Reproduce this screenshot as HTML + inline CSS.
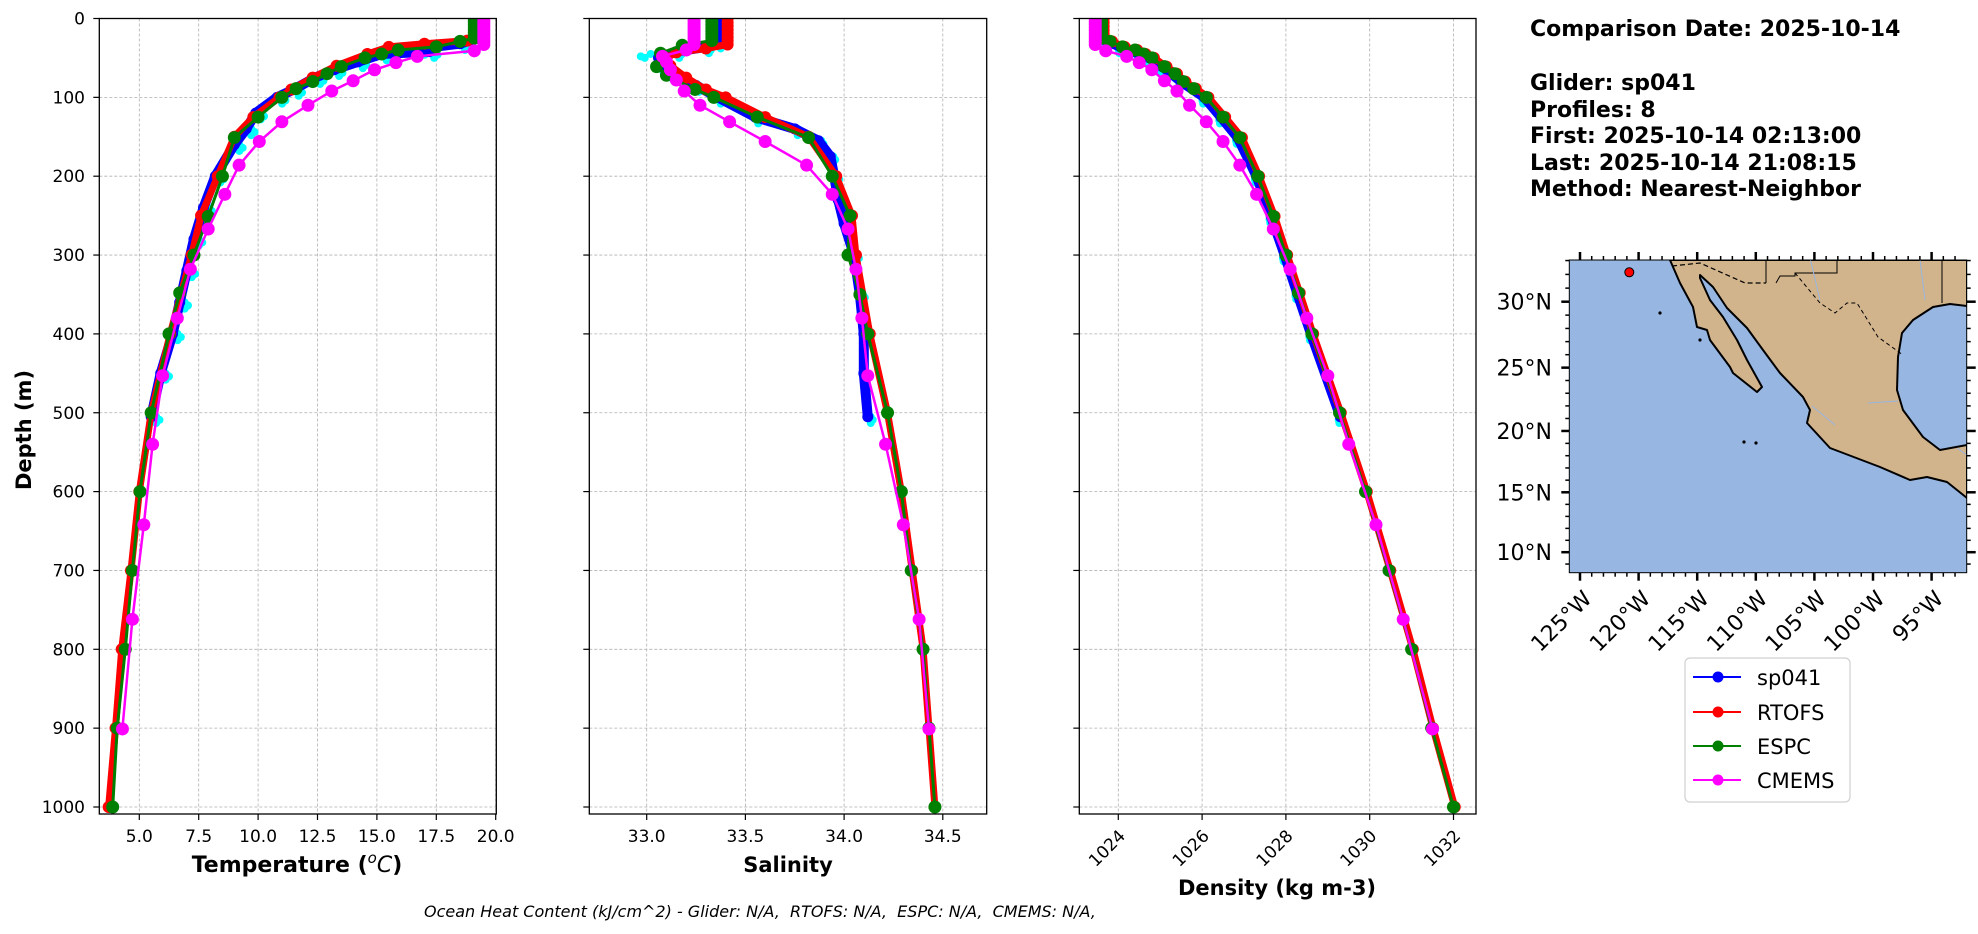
<!DOCTYPE html>
<html><head><meta charset="utf-8">
<style>
html,body{margin:0;padding:0;background:#fff;}
svg{display:block;font-family:"DejaVu Sans","Liberation Sans",sans-serif;}
</style></head>
<body>
<svg id="s" width="1978" height="934" viewBox="0 0 1978 934" xmlns="http://www.w3.org/2000/svg">
<rect width="1978" height="934" fill="#fff"/>
<g id="plots"></g>
<g font-weight="bold" font-size="22" fill="#000">
<text x="1530" y="36">Comparison Date: 2025-10-14</text>
<text x="1530" y="90">Glider: sp041</text>
<text x="1530" y="117">Profiles: 8</text>
<text x="1530" y="143">First: 2025-10-14 02:13:00</text>
<text x="1530" y="170">Last: 2025-10-14 21:08:15</text>
<text x="1530" y="196">Method: Nearest-Neighbor</text>
</g>
<g id="map"></g>
<g>
<rect x="1685" y="658" width="165" height="144" rx="5" fill="#fff" stroke="#d0d0d0" stroke-width="1.2"/>
<line x1="1693" y1="677" x2="1741" y2="677" stroke="#0000ff" stroke-width="2"/><circle cx="1718" cy="677" r="5.5" fill="#0000ff"/>
<line x1="1693" y1="712" x2="1741" y2="712" stroke="#ff0000" stroke-width="2"/><circle cx="1718" cy="712" r="5.5" fill="#ff0000"/>
<line x1="1693" y1="746" x2="1741" y2="746" stroke="#008000" stroke-width="2"/><circle cx="1718" cy="746" r="5.5" fill="#008000"/>
<line x1="1693" y1="780" x2="1741" y2="780" stroke="#ff00ff" stroke-width="2"/><circle cx="1718" cy="780" r="5.5" fill="#ff00ff"/>
<g font-size="21" fill="#000">
<text x="1757" y="685">sp041</text>
<text x="1757" y="720">RTOFS</text>
<text x="1757" y="754">ESPC</text>
<text x="1757" y="788">CMEMS</text>
</g>
</g>
<text x="424" y="917" font-size="16" font-style="italic" fill="#000" xml:space="preserve">Ocean Heat Content (kJ/cm^2) - Glider: N/A,  RTOFS: N/A,  ESPC: N/A,  CMEMS: N/A,</text>
<text transform="translate(31,430) rotate(-90)" text-anchor="middle" font-size="21" font-weight="bold">Depth (m)</text>
<text x="297" y="872" text-anchor="middle" font-size="22" font-weight="bold">Temperature (<tspan font-style="italic" font-weight="normal" baseline-shift="super" font-size="15">o</tspan><tspan font-style="italic" font-weight="normal">C</tspan>)</text>
<text x="788" y="872" text-anchor="middle" font-size="21" font-weight="bold">Salinity</text>
<text x="1277" y="895" text-anchor="middle" font-size="21" font-weight="bold">Density (kg m-3)</text>
</svg>
<script>
(function(){
var NS="http://www.w3.org/2000/svg";
var plots=document.getElementById("plots");
function el(tag,attrs,parent,txt){var e=document.createElementNS(NS,tag);for(var k in attrs)e.setAttribute(k,attrs[k]);if(txt!==undefined)e.textContent=txt;(parent||plots).appendChild(e);return e;}
var TOP=18.5,SC=0.7885,BOT=814;
function Y(d){return TOP+d*SC;}
var panels=[
 {L:99.3,R:496.3,x0:5,px0:139.3,k:23.76,ticks:[5,7.5,10,12.5,15,17.5,20],fmt:function(v){return v.toFixed(1);},ylab:true,rot:false},
 {L:589.3,R:986.7,x0:33,px0:646.7,k:197.4,ticks:[33,33.5,34,34.5],fmt:function(v){return v.toFixed(1);},ylab:false,rot:false},
 {L:1079.3,R:1476,x0:1024,px0:1118.3,k:41.9,ticks:[1024,1026,1028,1030,1032],fmt:function(v){return String(v);},ylab:false,rot:true}
];
function lev(a,b,v,n){var r=[];for(var i=0;i<n;i++){r.push([a+(b-a)*i/(n-1),v]);}return r;}
var T={
 blue:[[0,19.2],[25,19.2],[32,18.5],[38,16.8],[42,17.2],[45,15.2],[55,14.2],[65,13.2],[75,12.4],[90,11.5],[100,10.8],[120,9.9],[140,9.5],[160,9.0],[200,8.2],[240,7.7],[280,7.3],[320,7.0],[360,6.7],[400,6.4],[450,5.9],[505,5.5]],
 red:lev(0,20,19.3,6).concat([[28,18.8],[32,17],[36,15.5],[45,14.6],[60,13.3],[75,12.3],[90,11.4],[100,10.9],[125,9.8],[150,9.0],[200,8.3],[250,7.6],[300,7.2],[400,6.3],[500,5.5],[600,5.0],[700,4.65],[800,4.26],[900,4.0],[1000,3.71]]),
 green:lev(0,25,19.1,8).concat([[29,18.5],[36,17.5],[40,15.9],[45,15.2],[50,14.5],[61,13.5],[70,12.9],[80,12.3],[89,11.6],[100,11.0],[125,10.0],[151,9.0],[200,8.5],[251,7.9],[300,7.3],[348,6.7],[400,6.25],[500,5.5],[600,5.03],[700,4.71],[800,4.41],[900,4.07],[1000,3.88]]),
 mag:lev(0,33,19.5,10).concat([[41,19.1],[48,16.7],[56,15.8],[65,14.9],[79,14.0],[92,13.1],[110,12.1],[131,11.0],[156,10.05],[186,9.2],[223,8.6],[267,7.9],[318,7.15],[380,6.6],[453,5.98],[540,5.56],[642,5.19],[762,4.71],[901,4.29]])
};
var S={
 blue:[[0,33.36],[30,33.36],[36,33.3],[42,33.15],[50,33.06],[60,33.07],[70,33.12],[85,33.25],[100,33.36],[125,33.55],[140,33.75],[155,33.87],[175,33.93],[200,33.95],[230,33.97],[260,34.0],[300,34.05],[350,34.08],[400,34.1],[450,34.1],[505,34.12]],
 red:lev(0,33,33.41,8).concat([[38,33.3],[43,33.15],[50,33.1],[60,33.12],[75,33.2],[90,33.3],[100,33.4],[125,33.6],[150,33.82],[200,33.96],[250,34.04],[300,34.06],[400,34.13],[500,34.22],[600,34.29],[700,34.345],[800,34.40],[900,34.43],[1000,34.46]]),
 green:lev(0,28,33.33,8).concat([[34,33.18],[44,33.07],[61,33.05],[72,33.10],[90,33.245],[100,33.34],[125,33.56],[151,33.82],[200,33.94],[250,34.03],[300,34.02],[350,34.08],[400,34.12],[500,34.22],[600,34.29],[700,34.34],[800,34.40],[900,34.43],[1000,34.46]]),
 mag:lev(0,33,33.24,10).concat([[40,33.20],[48,33.08],[55,33.10],[65,33.12],[78,33.15],[92,33.19],[110,33.27],[131,33.42],[156,33.60],[186,33.81],[223,33.94],[267,34.02],[318,34.06],[380,34.09],[453,34.12],[540,34.21],[642,34.30],[762,34.38],[901,34.43]])
};
var D={
 blue:[[0,1023.55],[25,1023.55],[29,1023.75],[36,1024.05],[45,1024.5],[50,1024.75],[61,1025.05],[80,1025.5],[100,1026.05],[125,1026.45],[151,1026.85],[200,1027.3],[251,1027.65],[300,1027.97],[348,1028.27],[400,1028.6],[505,1029.3]],
 red:lev(0,25,1023.65,6).concat([[29,1023.85],[36,1024.15],[40,1024.45],[45,1024.65],[50,1024.85],[61,1025.15],[70,1025.4],[80,1025.6],[89,1025.85],[100,1026.15],[125,1026.55],[151,1026.95],[200,1027.36],[251,1027.73],[300,1028.03],[348,1028.33],[400,1028.65],[500,1029.31],[600,1029.93],[700,1030.49],[800,1031.03],[900,1031.51],[1000,1032.03]]),
 green:lev(0,25,1023.6,8).concat([[29,1023.8],[36,1024.1],[40,1024.4],[45,1024.6],[50,1024.8],[61,1025.1],[70,1025.35],[80,1025.55],[89,1025.8],[100,1026.1],[125,1026.5],[151,1026.9],[200,1027.33],[251,1027.7],[300,1028.0],[348,1028.3],[400,1028.62],[500,1029.28],[600,1029.9],[700,1030.46],[800,1031.0],[900,1031.48],[1000,1032.0]]),
 mag:lev(0,33,1023.45,10).concat([[41,1023.7],[48,1024.2],[56,1024.5],[65,1024.8],[79,1025.1],[92,1025.4],[110,1025.7],[131,1026.1],[156,1026.5],[186,1026.9],[223,1027.3],[267,1027.7],[318,1028.1],[380,1028.5],[453,1029.0],[540,1029.5],[642,1030.15],[762,1030.8],[901,1031.5]])
};
var datasets=[T,S,D];
var cyanOff=[0.35,0.025,-0.04];
panels.forEach(function(p,pi){
 var X=function(v){return p.px0+(v-p.x0)*p.k;};
 var clip="c"+pi;
 var cp=el("clipPath",{id:clip});el("rect",{x:p.L,y:TOP,width:p.R-p.L,height:BOT-TOP},cp);
 p.ticks.forEach(function(t){var x=X(t);el("line",{x1:x,y1:TOP,x2:x,y2:BOT,stroke:"#b0b0b0","stroke-width":0.8,"stroke-dasharray":"3,2"});});
 for(var d=100;d<=1000;d+=100){el("line",{x1:p.L,y1:Y(d),x2:p.R,y2:Y(d),stroke:"#b0b0b0","stroke-width":0.8,"stroke-dasharray":"3,2"});}
 var g=el("g",{"clip-path":"url(#"+clip+")"});
 var ds=datasets[pi];
 function pts(arr,off){return arr.map(function(a){return X(a[1]+(off||0)).toFixed(1)+","+Y(a[0]).toFixed(1);}).join(" ");}
 var off=cyanOff[pi];
 ds.blue.forEach(function(a,i){for(var j=0;j<3;j++){var dd=a[0]+j*4;el("circle",{cx:X(a[1]+off*(j%2?1:0.6)),cy:Y(dd),r:4,fill:"#00ffff"},g);}});
 if(pi==1){[[48,32.97],[50,32.99],[45,33.02]].forEach(function(a){el("circle",{cx:X(a[1]),cy:Y(a[0]),r:4,fill:"#00ffff"},g);});}
 el("polyline",{points:pts(ds.blue),fill:"none",stroke:"#0000ff","stroke-width":10,"stroke-linejoin":"round"},g);
 ds.blue.forEach(function(a){el("circle",{cx:X(a[1]),cy:Y(a[0]),r:5.5,fill:"#0000ff"},g);});
 el("polyline",{points:pts(ds.red),fill:"none",stroke:"#ff0000","stroke-width":7,"stroke-linejoin":"round"},g);
 ds.red.forEach(function(a){el("circle",{cx:X(a[1]),cy:Y(a[0]),r:6,fill:"#ff0000"},g);});
 el("polyline",{points:pts(ds.green),fill:"none",stroke:"#008000","stroke-width":3},g);
 ds.green.forEach(function(a){el("circle",{cx:X(a[1]),cy:Y(a[0]),r:6.5,fill:"#008000"},g);});
 el("polyline",{points:pts(ds.mag),fill:"none",stroke:"#ff00ff","stroke-width":2.5},g);
 ds.mag.forEach(function(a){el("circle",{cx:X(a[1]),cy:Y(a[0]),r:6.5,fill:"#ff00ff"},g);});
 el("rect",{x:p.L,y:TOP,width:p.R-p.L,height:BOT-TOP,fill:"none",stroke:"#000","stroke-width":1.3});
 for(var d2=0;d2<=1000;d2+=100){var y=Y(d2);el("line",{x1:p.L-6,y1:y,x2:p.L,y2:y,stroke:"#000","stroke-width":1.2});
  if(p.ylab)el("text",{x:85,y:y+6,"text-anchor":"end","font-size":17},null,String(d2));}
 p.ticks.forEach(function(t){var x=X(t);el("line",{x1:x,y1:BOT,x2:x,y2:BOT+6,stroke:"#000","stroke-width":1.2});
  if(p.rot){el("text",{transform:"translate("+(x+8)+",837) rotate(-45)","text-anchor":"end","font-size":17},null,p.fmt(t));}
  else el("text",{x:x,y:842,"text-anchor":"middle","font-size":17},null,p.fmt(t));});
});
var map=document.getElementById("map");
function m(tag,attrs,txt){return el(tag,attrs,map,txt);}
var ML=1569.3,MR=1966.7,MT=260,MB=572.7;
function merc(l){return Math.log(Math.tan(Math.PI/4+l*Math.PI/360));}
function LX(lon){return 1580+(lon+125)*11.72;}
function LY(lat){return 301.7-(merc(lat)-merc(30))*670;}
m("clipPath",{id:"mc"});
var mc=map.lastChild;el("rect",{x:ML,y:MT,width:MR-ML,height:MB-MT},mc);
m("rect",{x:ML,y:MT,width:MR-ML,height:MB-MT,fill:"#97b6e1"});
var land="M1670,260 L1680,283 L1693,307 L1697,327 L1707,330 L1710,340 L1730,367 L1733,373 L1757,392 L1762,387 L1747,360 L1737,340 L1723,317 L1710,300 L1700,278 L1700,275 L1713,287 L1727,308 L1747,328 L1763,350 L1780,373 L1803,397 L1810,410 L1807,423 L1830,448 L1880,467 L1910,480 L1927,477 L1947,482 L1967,498 L1967,445 L1940,450 L1923,437 L1903,410 L1897,390 L1898,357 L1902,333 L1913,320 L1933,307 L1950,304 L1967,306 L1967,260 Z";
var lg=m("g",{"clip-path":"url(#mc)"});
el("path",{d:land,fill:"#d2b48c",stroke:"#000","stroke-width":2,"stroke-linejoin":"round"},lg);
el("path",{d:"M1672,266 L1700,263 L1745,283 L1766,283",fill:"none",stroke:"#000","stroke-width":1.2,"stroke-dasharray":"5,3"},lg);
el("path",{d:"M1766,283 L1766,258 M1776,283 L1780,276 L1795,276 L1795,273 L1837,273 L1837,258 M1942,258 L1942,303",fill:"none",stroke:"#000","stroke-width":1},lg);
el("path",{d:"M1795,273 L1820,303 L1835,313 L1847,303 L1857,303 L1878,337 L1903,355",fill:"none",stroke:"#000","stroke-width":1,"stroke-dasharray":"4,3"},lg);
el("path",{d:"M1810,258 L1820,300 M1920,260 L1925,300 M1868,403 L1898,401 M1812,406 L1835,425 M1957,448 L1967,455",fill:"none",stroke:"#97b6e1","stroke-width":1},lg);
[[1660,313],[1756,443],[1744,442],[1700,340]].forEach(function(p){el("circle",{cx:p[0],cy:p[1],r:1.6,fill:"#000"},lg);});
el("circle",{cx:1629.3,cy:272.3,r:4.5,fill:"#ff0000",stroke:"#000","stroke-width":1},lg);
m("rect",{x:ML,y:MT,width:MR-ML,height:MB-MT,fill:"none",stroke:"#000","stroke-width":1});
[10,15,20,25,30].forEach(function(lat){var y=LY(lat);
 m("line",{x1:ML-8,y1:y,x2:ML,y2:y,stroke:"#000","stroke-width":2.5});
 m("line",{x1:MR,y1:y,x2:MR+9,y2:y,stroke:"#000","stroke-width":2.5});
 m("text",{x:1552,y:y+8,"text-anchor":"end","font-size":22},lat+"°N");});
for(var lat=9;lat<=33;lat++){if(lat%5==0)continue;var y=LY(lat);
 m("line",{x1:ML-4,y1:y,x2:ML,y2:y,stroke:"#000","stroke-width":1.5});
 m("line",{x1:MR,y1:y,x2:MR+4,y2:y,stroke:"#000","stroke-width":1.5});}
[125,120,115,110,105,100,95].forEach(function(w){var x=LX(-w);
 m("line",{x1:x,y1:MB,x2:x,y2:MB+8,stroke:"#000","stroke-width":2.5});
 m("line",{x1:x,y1:MT-8,x2:x,y2:MT,stroke:"#000","stroke-width":2.5});
 m("text",{transform:"translate("+(x+13)+",600) rotate(-45)","text-anchor":"end","font-size":22},w+"°W");});
for(var lon=-126;lon<=-92;lon++){if(lon%5==0)continue;var x=LX(lon);if(x<ML||x>MR)continue;
 m("line",{x1:x,y1:MB,x2:x,y2:MB+4,stroke:"#000","stroke-width":1.5});
 m("line",{x1:x,y1:MT-4,x2:x,y2:MT,stroke:"#000","stroke-width":1.5});}
})();
</script>
</body></html>
